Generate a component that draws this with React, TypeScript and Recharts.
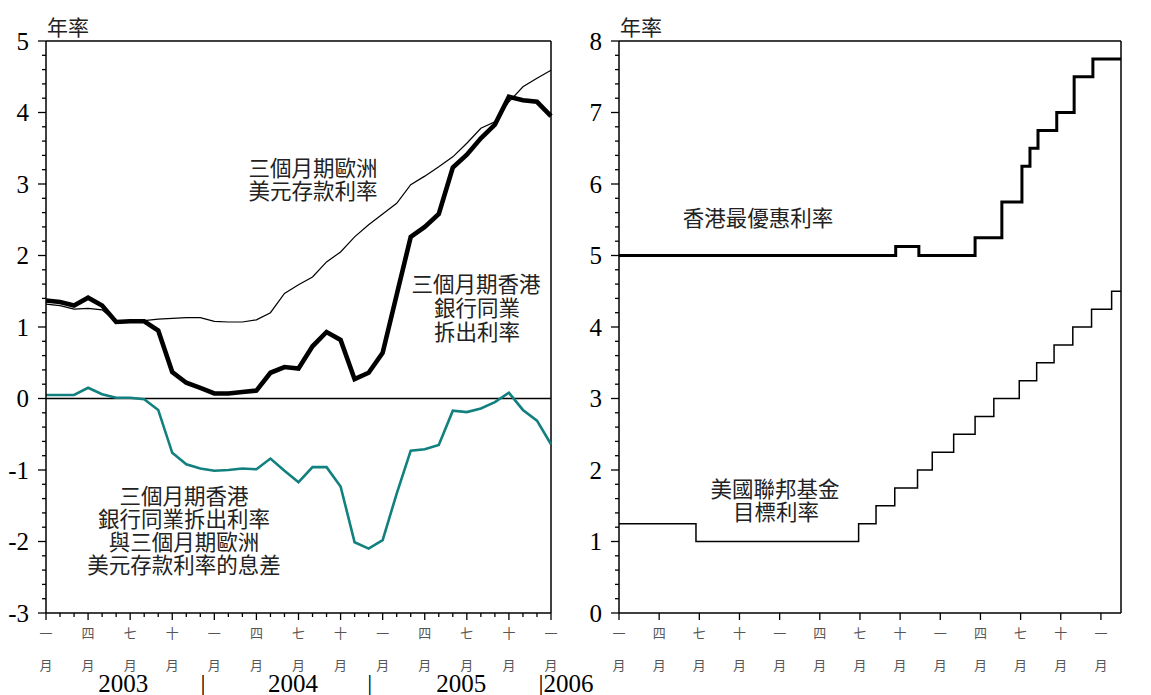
import React from 'react';
import { LineChart, Line, XAxis, YAxis, ReferenceLine } from 'recharts';

// Month index: 0 = Jan 2003 ... 36 = Jan 2006
const months: number[] = Array.from({ length: 37 }, (_, i) => i);

// Left panel series (annual %, monthly)
const hibor: number[] = [1.37, 1.35, 1.30, 1.41, 1.30, 1.07, 1.08, 1.08, 0.95, 0.37, 0.22, 0.15, 0.07, 0.07, 0.09, 0.11, 0.36, 0.44, 0.42, 0.73, 0.93, 0.82, 0.27, 0.36, 0.64, 1.45, 2.26, 2.40, 2.58, 3.23, 3.41, 3.64, 3.83, 4.22, 4.17, 4.15, 3.95];
const euroDollar: number[] = [1.32, 1.30, 1.25, 1.26, 1.24, 1.07, 1.08, 1.09, 1.11, 1.12, 1.13, 1.13, 1.08, 1.07, 1.07, 1.10, 1.20, 1.47, 1.59, 1.70, 1.91, 2.05, 2.26, 2.43, 2.58, 2.73, 2.99, 3.11, 3.24, 3.38, 3.57, 3.78, 3.87, 4.15, 4.36, 4.48, 4.59];
const spread: number[] = [0.05, 0.05, 0.05, 0.15, 0.06, 0.01, 0.01, -0.01, -0.16, -0.76, -0.92, -0.98, -1.01, -1.00, -0.98, -0.99, -0.84, -1.01, -1.17, -0.96, -0.96, -1.23, -2.01, -2.10, -1.98, -1.33, -0.73, -0.71, -0.65, -0.17, -0.19, -0.14, -0.05, 0.08, -0.16, -0.31, -0.64];

// Right panel step series: change month (fractional month index) and new level
const primeMonths: number[] = [0, 20.67, 22.4, 26.6, 28.6, 30.1, 30.7, 31.3, 32.7, 34.0, 35.4, 37.5];
const primeRates: number[] = [5.0, 5.125, 5.0, 5.25, 5.75, 6.25, 6.5, 6.75, 7.0, 7.5, 7.75, 7.75];
const fedMonths: number[] = [0, 5.75, 17.9, 19.2, 20.6, 22.3, 23.4, 25.0, 26.6, 28.0, 29.9, 31.2, 32.5, 33.9, 35.3, 36.8, 37.5];
const fedRates: number[] = [1.25, 1.0, 1.25, 1.5, 1.75, 2.0, 2.25, 2.5, 2.75, 3.0, 3.25, 3.5, 3.75, 4.0, 4.25, 4.5, 4.5];

// Axis labels
const quarterTicks: number[] = [0, 3, 6, 9, 12, 15, 18, 21, 24, 27, 30, 33, 36];
const quarterLabels: string[] = ['一', '四', '七', '十', '一', '四', '七', '十', '一', '四', '七', '十', '一'];
const yearPositions: number[] = [5.5, 11.19, 17.6, 23.08, 29.6, 35.1];
const yearLabels: string[] = ['2003', '|', '2004', '|', '2005', '|2006'];
const leftYTicks: number[] = Array.from({ length: 41 }, (_, i) => (i - 15) / 5);
const rightYTicks: number[] = Array.from({ length: 41 }, (_, i) => i / 5);

const leftData = months.map((m, i) => ({ m, hibor: hibor[i], euro: euroDollar[i], spread: spread[i] }));
const primeData = primeMonths.map((m, i) => ({ m, v: primeRates[i] }));
const fedData = fedMonths.map((m, i) => ({ m, v: fedRates[i] }));

const SERIF = "'Liberation Serif', 'Times New Roman', serif";
const CJK = "'Noto Sans CJK TC', 'Noto Sans CJK SC', sans-serif";

const makeMonthTick = (withMinor: boolean) => (props: any) => {
  const { x, y, payload } = props;
  const v = payload.value;
  const idx = quarterTicks.indexOf(v);
  const major = idx >= 0;
  if (!major && !withMinor) return <g />;
  return (
    <g>
      <line x1={x} x2={x} y1={y} y2={y + (major ? 7 : 4)} stroke="#000" strokeWidth={1.3} />
      {major && (
        <text x={x} y={y + 19} textAnchor="middle" dominantBaseline="central" fontSize={13} fill="#555" fontFamily={CJK}>
          {quarterLabels[idx]}
        </text>
      )}
      {major && (
        <text x={x} y={y + 51} textAnchor="middle" dominantBaseline="central" fontSize={13} fill="#555" fontFamily={CJK}>
          月
        </text>
      )}
    </g>
  );
};

const YearTick = (props: any) => {
  const { x, y, payload } = props;
  const idx = yearPositions.indexOf(payload.value);
  const label = idx >= 0 ? yearLabels[idx] : '';
  const anchor = label.length > 1 && label.startsWith('|') ? 'start' : 'middle';
  return (
    <text x={x} y={y + 19} textAnchor={anchor} fontSize={25} fill="#000" fontFamily={SERIF}>
      {label}
    </text>
  );
};

const YTick = (props: any) => {
  const { x, y, payload } = props;
  const v = payload.value;
  const isMajor = Math.abs(v - Math.round(v)) < 1e-6;
  return (
    <g>
      <line x1={x} x2={x - (isMajor ? 8 : 4)} y1={y} y2={y} stroke="#000" strokeWidth={1.3} />
      {isMajor && (
        <text x={x - 17} y={y} dy="0.35em" textAnchor="end" fontSize={25} fill="#000" fontFamily={SERIF}>
          {Math.round(v)}
        </text>
      )}
    </g>
  );
};

const MonthTickLeft = makeMonthTick(true);
const MonthTickRight = makeMonthTick(false);

const cjkText = (x: number, y: number, s: string, size = 21.5) => (
  <text key={s + x + y} x={x} y={y} textAnchor="middle" dominantBaseline="central" fontSize={size} fill="#222" fontFamily={CJK}>
    {s}
  </text>
);

export default function App() {
  return (
    <div style={{ position: 'absolute', left: 0, top: 0, width: 1151, height: 695, background: '#fff' }}>
      <div style={{ position: 'absolute', left: 0, top: 0 }}>
        <LineChart width={615} height={695} data={leftData} margin={{ top: 41, right: 64, bottom: 0, left: 0 }}>
          <XAxis
            dataKey="m"
            type="number"
            domain={[0, 36]}
            ticks={months}
            interval={0}
            height={60}
            tickSize={0.001}
            tickMargin={0}
            tickLine={false}
            axisLine={{ stroke: '#000', strokeWidth: 1.5 }}
            tick={MonthTickLeft}
          />
          <XAxis
            xAxisId="yr"
            dataKey="m"
            type="number"
            domain={[0, 36]}
            ticks={yearPositions}
            interval={0}
            height={22}
            tickSize={0.001}
            tickMargin={0}
            tickLine={false}
            axisLine={false}
            tick={YearTick}
          />
          <YAxis
            type="number"
            domain={[-3, 5]}
            ticks={leftYTicks}
            interval={0}
            width={46}
            tickSize={0.001}
            tickMargin={0}
            tickLine={false}
            axisLine={{ stroke: '#000', strokeWidth: 1.5 }}
            tick={YTick}
          />
          <ReferenceLine y={5} stroke="#000" strokeWidth={1.5} />
          <ReferenceLine x={36} stroke="#000" strokeWidth={1.5} />
          <ReferenceLine y={0} stroke="#000" strokeWidth={1.5} />
          <Line dataKey="spread" type="linear" stroke="#11807e" strokeWidth={2.6} dot={false} activeDot={false} isAnimationActive={false} />
          <Line dataKey="euro" type="linear" stroke="#000" strokeWidth={1.2} dot={false} activeDot={false} isAnimationActive={false} />
          <Line dataKey="hibor" type="linear" stroke="#000" strokeWidth={4.6} dot={false} activeDot={false} isAnimationActive={false} />
        </LineChart>
      </div>
      <div style={{ position: 'absolute', left: 573, top: 0 }}>
        <LineChart width={578} height={695} margin={{ top: 41, right: 30, bottom: 0, left: 0 }}>
          <XAxis
            dataKey="m"
            type="number"
            domain={[0, 37.5]}
            ticks={quarterTicks}
            interval={0}
            height={60}
            tickSize={0.001}
            tickMargin={0}
            tickLine={false}
            axisLine={{ stroke: '#000', strokeWidth: 1.5 }}
            tick={MonthTickRight}
          />
          <XAxis
            xAxisId="yr"
            dataKey="m"
            type="number"
            domain={[0, 37.5]}
            ticks={yearPositions}
            interval={0}
            height={22}
            tickSize={0.001}
            tickMargin={0}
            tickLine={false}
            axisLine={false}
            tick={YearTick}
          />
          <YAxis
            type="number"
            domain={[0, 8]}
            ticks={rightYTicks}
            interval={0}
            width={46}
            tickSize={0.001}
            tickMargin={0}
            tickLine={false}
            axisLine={{ stroke: '#000', strokeWidth: 1.5 }}
            tick={YTick}
          />
          <ReferenceLine y={8} stroke="#000" strokeWidth={1.5} />
          <ReferenceLine x={37.5} stroke="#000" strokeWidth={1.5} />
          <Line data={fedData} dataKey="v" type="stepAfter" stroke="#000" strokeWidth={1.5} dot={false} activeDot={false} isAnimationActive={false} />
          <Line data={primeData} dataKey="v" type="stepAfter" stroke="#000" strokeWidth={3} dot={false} activeDot={false} isAnimationActive={false} />
        </LineChart>
      </div>
      <svg width={1151} height={695} style={{ position: 'absolute', left: 0, top: 0, pointerEvents: 'none' }}>
        <text x={47} y={26} dominantBaseline="central" fontSize={21} fill="#222" fontFamily={CJK}>年率</text>
        <text x={620} y={26} dominantBaseline="central" fontSize={21} fill="#222" fontFamily={CJK}>年率</text>
        {cjkText(313, 166, '三個月期歐洲')}
        {cjkText(313, 189, '美元存款利率')}
        {cjkText(476, 282, '三個月期香港')}
        {cjkText(477, 306, '銀行同業')}
        {cjkText(477, 330, '拆出利率')}
        {cjkText(184, 494, '三個月期香港')}
        {cjkText(184, 517, '銀行同業拆出利率')}
        {cjkText(184, 540, '與三個月期歐洲')}
        {cjkText(184, 563, '美元存款利率的息差')}
        {cjkText(758, 216, '香港最優惠利率')}
        {cjkText(775, 487, '美國聯邦基金')}
        {cjkText(776, 510, '目標利率')}
      </svg>
    </div>
  );
}
